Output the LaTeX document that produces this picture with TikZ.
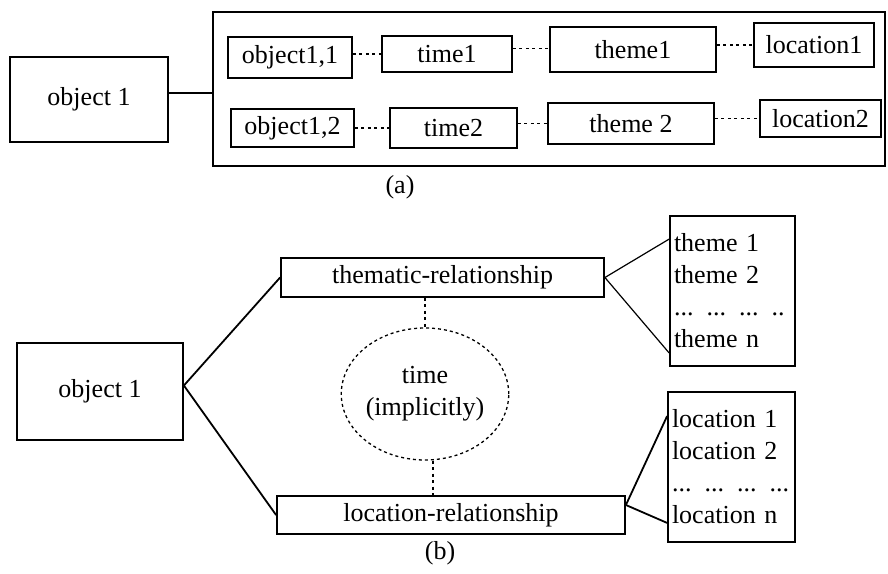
\documentclass[tikz,border=0pt]{standalone}
\usepackage{fontspec}
\setmainfont{Liberation Serif}
\usetikzlibrary{shapes.geometric,calc}
\begin{document}
\begin{tikzpicture}[x=1pt,y=-1pt,
  box/.style={draw, line width=1.8pt, inner sep=0pt, font=\fontsize{26}{32}\selectfont},
  conn/.style={line width=1.8pt},
  thinconn/.style={line width=1.2pt},
  dotconn/.style={line width=1.3pt, dash pattern=on 3pt off 3.5pt},
  lbl/.style={font=\fontsize{26}{30}\selectfont}]
\useasboundingbox (0,0) rectangle (888,573);
% ---------- (a) ----------
\node[box, minimum width=158pt, minimum height=85pt] (objA) at (89,99.5) {object 1};
\node[draw, line width=1.8pt, inner sep=0pt, minimum width=672pt, minimum height=154pt] (cont) at (549,89) {};
\node[box, minimum width=124pt, minimum height=41pt] (o11) at (290,57.5) {object1,1};
\node[box, minimum width=130pt, minimum height=36pt] (t1) at (447,54) {time1};
\node[box, minimum width=166pt, minimum height=45pt] (th1) at (633,49.5) {theme1};
\node[box, minimum width=120pt, minimum height=44pt] (l1) at (814,45) {location1};
\node[box, minimum width=123pt, minimum height=38pt] (o12) at (292.5,128) {object1,2};
\node[box, minimum width=127pt, minimum height=40pt] (t2) at (453.5,128) {time2};
\node[box, minimum width=166pt, minimum height=41pt] (th2) at (631,123.5) {theme 2};
\node[box, minimum width=121pt, minimum height=37pt] (l2) at (820.5,118.5) {location2};
\node[lbl] (la) at (400,187) {(a)};
\draw[conn] (objA.east |- 0,93) -- (cont.west |- 0,93);
\draw[dotconn] (t1.west -| o11.east) -- (t1.west);
\draw[dotconn] ($(th1.west -| t1.east)+(0,-1)$) -- ($(th1.west)+(0,-1)$);
\draw[dotconn] (l1.west -| th1.east) -- (l1.west);
\draw[dotconn] (o12.east) -- (t2.west);
\draw[dotconn] (th2.west -| t2.east) -- (th2.west);
\draw[dotconn] (l2.west -| th2.east) -- (l2.west);
% ---------- (b) ----------
\node[box, minimum width=166pt, minimum height=97pt] (objB) at (100,391.5) {object 1};
\node[box, minimum width=323pt, minimum height=39pt] (thr) at (442.5,277.5) {thematic-relationship};
\node[box, minimum width=348pt, minimum height=38pt] (locr) at (451,515) {location-relationship};
\node[ellipse, draw, line width=1.3pt, dash pattern=on 3pt off 3pt, minimum width=154pt, minimum height=132pt, inner sep=0pt, align=center, font=\fontsize{26}{32}\selectfont] (ell) at (425,394) {time\\(implicitly)};
\node[box, minimum width=125pt, minimum height=150pt, text width=117pt, inner xsep=4pt, align=left] (themes) at (732.5,291) {theme 1\\theme 2\\... ... ... ..\\theme n};
\node[box, minimum width=127pt, minimum height=150pt, text width=119pt, inner xsep=4pt, align=left] (locs) at (731.5,467) {location 1\\location 2\\... ... ... ...\\location n};
\node[lbl] (lb) at (440,553) {(b)};
\coordinate (oB) at ($(objB.east)+(0,-6)$);
\draw[conn] (oB) -- (thr.west);
\draw[conn] (oB) -- (locr.west);
\draw[dotconn] (ell.north |- thr.south) -- (ell.north);
\draw[dotconn] ($(ell.south)+(8,0)$) -- ($(ell.south |- locr.north)+(8,0)$);
\draw[thinconn] (thr.east) -- ($(themes.north west)+(0,24)$);
\draw[thinconn] (thr.east) -- ($(themes.south west)+(0,-14)$);
\coordinate (lR) at ($(locr.east)+(0,-10)$);
\draw[conn] (lR) -- ($(locs.north west)+(0,25)$);
\draw[conn] (lR) -- ($(locs.south west)+(0,-20)$);
\end{tikzpicture}
\end{document}
